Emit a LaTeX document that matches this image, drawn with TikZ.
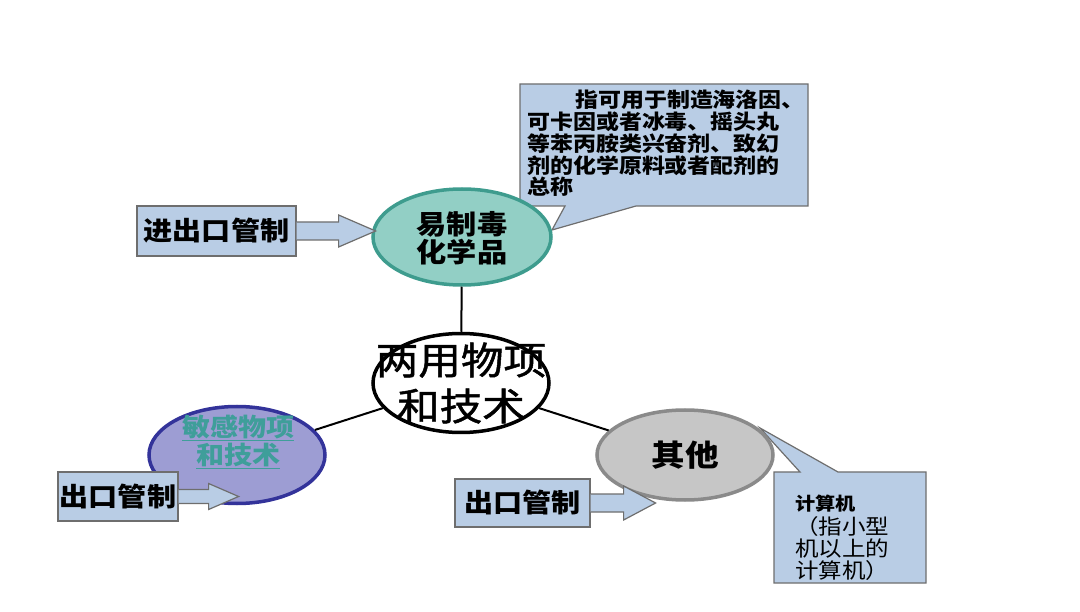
\documentclass[tikz,border=0pt]{standalone}
\usepackage{fontspec}
\setmainfont{Noto Sans CJK SC}[FakeStretch=1.12]
\newfontfamily\cjkmed{Noto Sans CJK SC}[FakeStretch=1.12,FakeBold=1.3]
\usetikzlibrary{shapes.geometric,calc}
\definecolor{boxfill}{HTML}{B9CDE5}
\definecolor{boxline}{HTML}{6E6E6E}
\definecolor{tealfill}{HTML}{92CFC5}
\definecolor{tealline}{HTML}{3E9C8E}
\definecolor{lavfill}{HTML}{9D9DD3}
\definecolor{lavline}{HTML}{33339A}
\definecolor{grayfill}{HTML}{C6C6C6}
\definecolor{grayline}{HTML}{8A8A8A}
\definecolor{linktext}{HTML}{3F9E9A}
\newcommand\blockarrow[5]{%
  \draw[barrow] ($(#1)+(0,-#3)$) -- ($(#2)+(-#4,-#3)$) -- ($(#2)+(-#4,-#5)$) -- (#2)
    -- ($(#2)+(-#4,#5)$) -- ($(#2)+(-#4,#3)$) -- ($(#1)+(0,#3)$);}
\begin{document}
\begin{tikzpicture}[x=1pt,y=-1pt,
  ell/.style={ellipse,draw,line width=3.5pt,inner sep=0pt},
  etext/.style={align=center,inner sep=0pt},
  lbox/.style={rectangle,draw=boxline,fill=boxfill,line width=1.2pt,inner sep=0pt,
    font=\fontsize{26}{28}\selectfont\bfseries},
  barrow/.style={draw=boxline,fill=boxfill,line width=1.2pt,line join=miter},
  callout/.style={draw=boxline,fill=boxfill,line width=1.2pt,line join=miter},
  link/.style={draw=black,line width=2pt}]
\useasboundingbox (0,0) rectangle (1080,612);
\fill[white] (0,0) rectangle (1080,612);

% callout 1
\coordinate (c1tl) at (520,84);
\coordinate (c1br) at (808,206);
\coordinate (c1tip) at (552,230);
\draw[callout] (c1tl) -- (c1tl -| c1br) -- (c1br) -- (636,206) -- (c1tip) -- (565,206) -- (c1tl |- c1br) -- cycle;
\node[anchor=north west,inner sep=0pt,align=left,font=\fontsize{20.5}{21.8}\selectfont\bfseries] (c1text) at (527,90)
  {\hspace*{48pt}指可用于制造海洛因、\\可卡因或者冰毒、摇头丸\\等苯丙胺类兴奋剂、致幻\\剂的化学原料或者配剂的\\总称};

% callout 2
\coordinate (c2tl) at (774,472);
\coordinate (c2br) at (926,583);
\coordinate (c2tip) at (760,428);
\draw[callout] (c2tl) -- (800,472) -- (c2tip) -- (838,472) -- (c2tl -| c2br) -- (c2br) -- (c2tl |- c2br) -- cycle;
\node[anchor=north west,inner sep=0pt,align=left,font=\fontsize{21}{22}\selectfont] (c2text) at (795,495)
  {{\fontsize{18}{20}\selectfont\bfseries 计算机}\\[2pt]（指小型\\机以上的\\计算机）};

% ellipses
\node[ell,fill=white,draw=black,minimum width=176pt,minimum height=99pt] (center) at (461,383) {};
\node[ell,fill=tealfill,draw=tealline,minimum width=178pt,minimum height=96pt] (chem) at (462,237) {};
\node[ell,fill=lavfill,draw=lavline,minimum width=176pt,minimum height=97pt] (sens) at (237,455) {};
\node[ell,fill=grayfill,draw=grayline,minimum width=176pt,minimum height=90pt] (other) at (685,455) {};

\node[etext,font=\fontsize{38}{46}\selectfont\cjkmed] (centertext) at (461,383) {两用物项\\和技术};
\node[etext,font=\fontsize{27}{28}\selectfont\bfseries] (chemtext) at (462,238) {易制毒\\化学品};
\node[etext,text=linktext,font=\fontsize{25}{28}\selectfont\bfseries] (senstext) at (238,442)
  {\underline{敏感物项}\\\underline{和技术}};
\node[etext,font=\fontsize{30}{32}\selectfont\bfseries] (othertext) at (685,455) {其他};

% links
\draw[link] (chem) -- (center);
\draw[link] (center) -- (sens);
\draw[link] (center) -- (other);

% boxes
\node[lbox,minimum width=159pt,minimum height=50pt] (box1) at (216.5,231) {进出口管制};
\node[lbox,minimum width=120pt,minimum height=49pt] (box2) at (118,496.5) {出口管制};
\node[lbox,minimum width=135pt,minimum height=48pt] (box3) at (522.5,503) {出口管制};

% block arrows
\coordinate (a1tip) at ($(box1.east)+(79,0)$);
\blockarrow{box1.east}{a1tip}{9}{37}{16}
\coordinate (a2tip) at ($(box2.east)+(60,0)$);
\blockarrow{box2.east}{a2tip}{7}{30}{13}
\coordinate (a3tip) at ($(box3.east)+(65,0)$);
\blockarrow{box3.east}{a3tip}{9}{32}{17}
\end{tikzpicture}
\end{document}
